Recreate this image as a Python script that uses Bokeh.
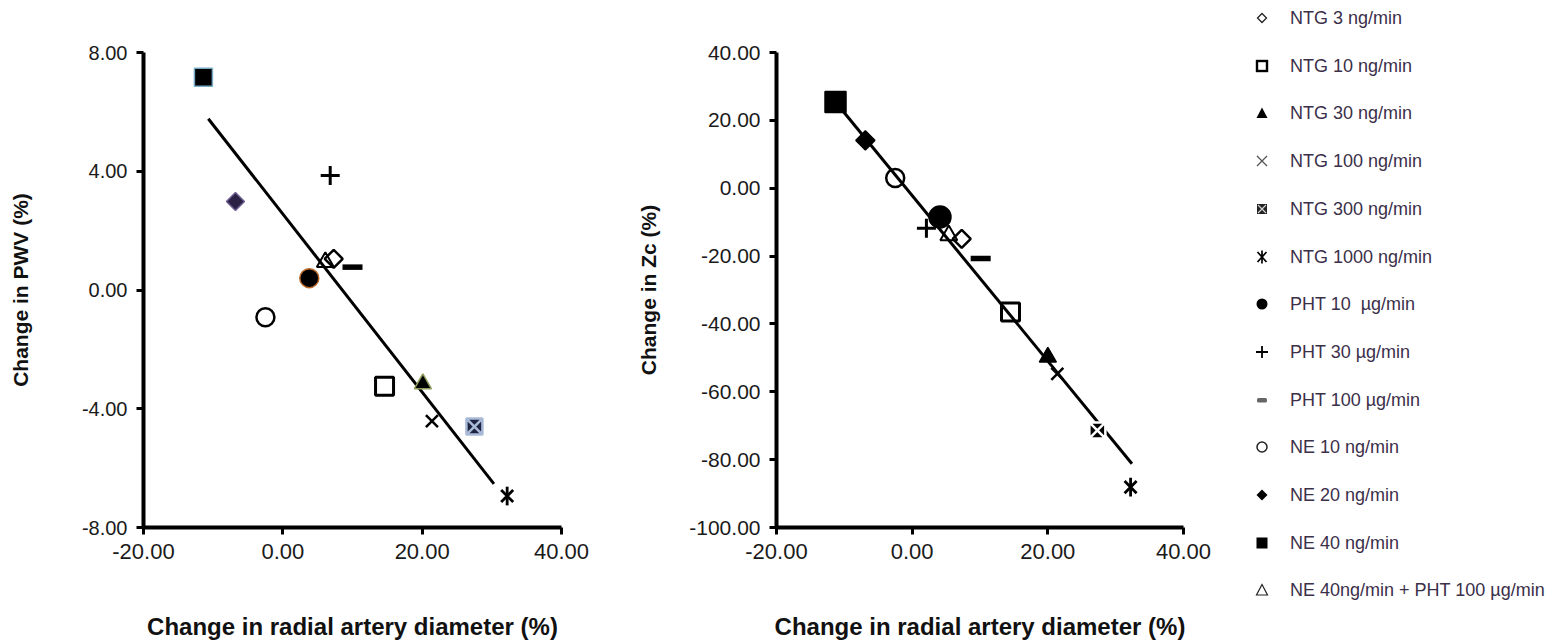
import numpy as np
from bokeh.plotting import figure
from bokeh.layouts import row
from bokeh.models import (Range1d, FixedTicker, NumeralTickFormatter, ColumnDataSource, Div)
from bokeh.embed import file_html
from bokeh.resources import INLINE

# ---------------- data ----------------
series = ["NTG 3 ng/min", "NTG 10 ng/min", "NTG 30 ng/min", "NTG 100 ng/min",
          "NTG 300 ng/min", "NTG 1000 ng/min", "PHT 10&nbsp; µg/min", "PHT 30 µg/min",
          "PHT 100 µg/min", "NE 10 ng/min", "NE 20 ng/min", "NE 40 ng/min",
          "NE 40ng/min + PHT 100 µg/min"]

# left panel: change in radial artery diameter (%) vs change in PWV (%)
diam_pwv = [7.3, 14.6, 20.1, 21.4, 27.5, 32.2, 3.8, 6.8, 10.0, -2.5, -6.8, -11.4, 6.1]
pwv      = [1.05, -3.24, -3.16, -4.42, -4.6, -6.94, 0.4, 3.86, 0.77, -0.92, 2.98, 7.17, 0.94]
pwv_fit_x = [-10.7, 30.3]
pwv_fit_y = [5.77, -6.53]

# right panel: change in radial artery diameter (%) vs change in Zc (%)
diam_zc = [7.3, 14.5, 20.0, 21.4, 27.3, 32.2, 4.1, 2.1, 10.1, -2.5, -6.9, -11.3, 5.4]
zc      = [-14.9, -36.5, -49.8, -54.7, -71.4, -88.1, -8.5, -11.8, -20.7, 3.0, 14.1, 25.4, -13.9]
zc_fit_x = [-11.3, 32.4]
zc_fit_y = [25.4, -81.2]

x_ticks = [-20, 0, 20, 40]
pwv_ticks = [-8, -4, 0, 4, 8]
zc_ticks = [-100, -80, -60, -40, -20, 0, 20, 40]

x_title = "Change in radial artery diameter (%)"
pwv_title = "Change in PWV (%)"
zc_title = "Change in Zc (%)"

# ---------------- styles ----------------
kinds = ["open_diamond", "open_square", "filled_triangle", "xmark", "square_x",
         "asterisk6", "filled_circle", "plus", "dash", "open_circle",
         "filled_diamond", "filled_square", "open_triangle"]

chart_size = {"open_diamond": 18, "open_square": 18, "filled_triangle": 17, "xmark": 17,
              "square_x": 16, "asterisk6": 17, "filled_circle": 19, "plus": 19, "dash": 20,
              "open_circle": 18, "filled_diamond": 18, "filled_square": 18, "open_triangle": 17}

left_colors = {"filled_triangle": ("black", "#8c9a5c"),
               "square_x": ("#1e2440", "#a9bad8"),
               "filled_circle": ("black", "#b8692a"),
               "filled_diamond": ("#2a2145", "#6e5f92"),
               "filled_square": ("black", "#78acc6")}


def draw(p, xs, ys, kind, size, fill="black", line="black", lw=2.5):
    src = ColumnDataSource(dict(x=list(xs), y=list(ys)))
    if kind == "open_diamond":
        p.scatter("x", "y", source=src, marker="square", angle=np.pi / 4, size=size / 1.414,
                  fill_color=None, line_color=line, line_width=lw)
    elif kind == "open_square":
        p.scatter("x", "y", source=src, marker="square", size=size, fill_color=None,
                  line_color=line, line_width=lw + 0.5)
    elif kind == "filled_triangle":
        p.scatter("x", "y", source=src, marker="triangle", size=size, fill_color=fill,
                  line_color=line, line_width=1.5)
    elif kind == "xmark":
        p.scatter("x", "y", source=src, marker="x", size=size, line_color=line, line_width=lw)
    elif kind == "square_x":
        p.scatter("x", "y", source=src, marker="square_x", size=size, fill_color=fill,
                  line_color=line, line_width=lw)
    elif kind == "asterisk6":
        p.scatter("x", "y", source=src, marker="x", size=size, line_color=line, line_width=lw + 0.3)
        p.scatter("x", "y", source=src, marker="dash", angle=np.pi / 2, size=size * 1.1,
                  line_color=line, line_width=lw + 0.3)
    elif kind == "filled_circle":
        p.scatter("x", "y", source=src, marker="circle", size=size, fill_color=fill,
                  line_color=line, line_width=1.5)
    elif kind == "plus":
        p.scatter("x", "y", source=src, marker="cross", size=size, line_color=line, line_width=lw + 0.5)
    elif kind == "dash":
        p.scatter("x", "y", source=src, marker="dash", size=size, line_color=line, line_width=lw * 2.2)
    elif kind == "open_circle":
        p.scatter("x", "y", source=src, marker="circle", size=size, fill_color=None,
                  line_color=line, line_width=lw)
    elif kind == "filled_diamond":
        p.scatter("x", "y", source=src, marker="square", angle=np.pi / 4, size=size / 1.414,
                  fill_color=fill, line_color=line, line_width=1.5)
    elif kind == "filled_square":
        p.scatter("x", "y", source=src, marker="square", size=size, fill_color=fill,
                  line_color=line, line_width=1.5)
    elif kind == "open_triangle":
        p.scatter("x", "y", source=src, marker="triangle", size=size, fill_color=None,
                  line_color=line, line_width=lw - 0.5)


H = 644
TOP = 52
FRAME_H = 475
FONT = "Liberation Sans"


def make_fig(width, yr, yticks, ytitle, ml, mr, ystand, ytick_size):
    p = figure(width=width, height=H, x_range=Range1d(-20, 40), y_range=Range1d(*yr),
               output_backend="svg", toolbar_location=None,
               min_border_left=ml, min_border_right=mr, min_border_top=TOP,
               min_border_bottom=H - TOP - FRAME_H)
    p.grid.visible = False
    p.outline_line_color = None
    p.background_fill_color = "white"
    p.border_fill_color = "white"
    p.xaxis.ticker = FixedTicker(ticks=x_ticks)
    p.yaxis.ticker = FixedTicker(ticks=yticks)
    for ax in (p.xaxis[0], p.yaxis[0]):
        ax.axis_line_width = 4
        ax.axis_line_color = "black"
        ax.major_tick_line_width = 3
        ax.major_tick_out = 7
        ax.major_tick_in = 0
        ax.minor_tick_line_color = None
        ax.formatter = NumeralTickFormatter(format="0.00")
        ax.major_label_text_font = FONT
        ax.major_label_text_color = "#1a1a1a"
        ax.major_label_standoff = 9
        ax.axis_label_text_font = FONT
        ax.axis_label_text_font_style = "bold"
        ax.axis_label_text_color = "#111111"
    p.xaxis.major_label_text_font_size = "22px"
    p.yaxis.major_label_text_font_size = ytick_size
    p.xaxis.axis_label = x_title
    p.xaxis.axis_label_text_font_size = "24px"
    p.xaxis.axis_label_standoff = 51
    p.yaxis.axis_label = ytitle
    p.yaxis.axis_label_text_font_size = "21px"
    p.yaxis.axis_label_standoff = ystand
    return p


# left panel (frame 143..561)
p1 = make_fig(628, (-8, 8), pwv_ticks, pwv_title, 143, 67, 47, "20px")
p1.line(pwv_fit_x, pwv_fit_y, line_width=3, color="black")
for i, k in enumerate(kinds):
    fill, line = left_colors.get(k, ("black", "black"))
    draw(p1, [diam_pwv[i]], [pwv[i]], k, chart_size[k], fill=fill, line=line)

# right panel (frame 776..1183)
p2 = make_fig(612, (-100, 40), zc_ticks, zc_title, 148, 57, 26, "21px")
p2.line(zc_fit_x, zc_fit_y, line_width=3, color="black")
right_scale = {"filled_square": 21, "filled_circle": 22, "filled_diamond": 19}
for i, k in enumerate(kinds):
    fill, line = ("black", "black")
    if k == "square_x":
        fill, line = ("black", "white")
    draw(p2, [diam_zc[i]], [zc[i]], k, right_scale.get(k, chart_size[k]), fill=fill, line=line)

# ---------------- legend (HTML with small inline SVG symbols) ----------------
legend_svg = {
    "open_diamond": '<polygon points="10,5.5 14.5,10 10,14.5 5.5,10" fill="none" stroke="#222" stroke-width="1.3"/>',
    "open_square": '<rect x="5" y="5" width="10" height="10" fill="none" stroke="#000" stroke-width="2.4"/>',
    "filled_triangle": '<polygon points="10,4.5 15.5,15 4.5,15" fill="#000"/>',
    "xmark": '<path d="M5,5 L15,15 M15,5 L5,15" stroke="#555" stroke-width="1.3"/>',
    "square_x": '<rect x="5" y="5" width="10" height="10" fill="#222"/>'
                '<path d="M6,6 L14,14 M14,6 L6,14" stroke="#d0d0d0" stroke-width="1.2"/>',
    "asterisk6": '<path d="M5.5,5 L14.5,15 M14.5,5 L5.5,15 M10,3.5 L10,16.5" stroke="#000" stroke-width="1.7"/>',
    "filled_circle": '<circle cx="10" cy="10" r="5.5" fill="#000"/>',
    "plus": '<path d="M4,10 L16,10 M10,4 L10,16" stroke="#000" stroke-width="1.8"/>',
    "dash": '<rect x="5" y="8" width="10" height="4.5" rx="1.5" fill="#666"/>',
    "open_circle": '<circle cx="10" cy="10" r="5" fill="none" stroke="#222" stroke-width="1.5"/>',
    "filled_diamond": '<polygon points="10,4.5 15.5,10 10,15.5 4.5,10" fill="#000"/>',
    "filled_square": '<rect x="4.5" y="4.5" width="11" height="11" fill="#000"/>',
    "open_triangle": '<polygon points="10,4.5 15.5,15 4.5,15" fill="none" stroke="#222" stroke-width="1.2"/>',
}
LEG_Y0 = 18
LEG_STEP = 47.7
parts = []
for i, (lab, k) in enumerate(zip(series, kinds)):
    cy = LEG_Y0 + LEG_STEP * i
    parts.append(
        f'<svg width="20" height="20" viewBox="0 0 20 20" '
        f'style="position:absolute;left:12px;top:{cy - 10:.1f}px;overflow:visible">{legend_svg[k]}</svg>'
        f'<div style="position:absolute;left:50px;top:{cy - 11:.1f}px;height:22px;line-height:22px;'
        f'white-space:nowrap;font-family:\'Liberation Sans\',Arial,sans-serif;font-size:18px;'
        f'color:#3b2f4a">{lab}</div>')
legend_html = ('<div style="position:relative;width:307px;height:640px;margin:0;padding:0">'
               + "".join(parts) + "</div>")
legend_div = Div(text=legend_html, width=307, height=640, margin=0)

layout = row(p1, p2, legend_div)
open("out.html", "w").write(file_html(layout, INLINE))
